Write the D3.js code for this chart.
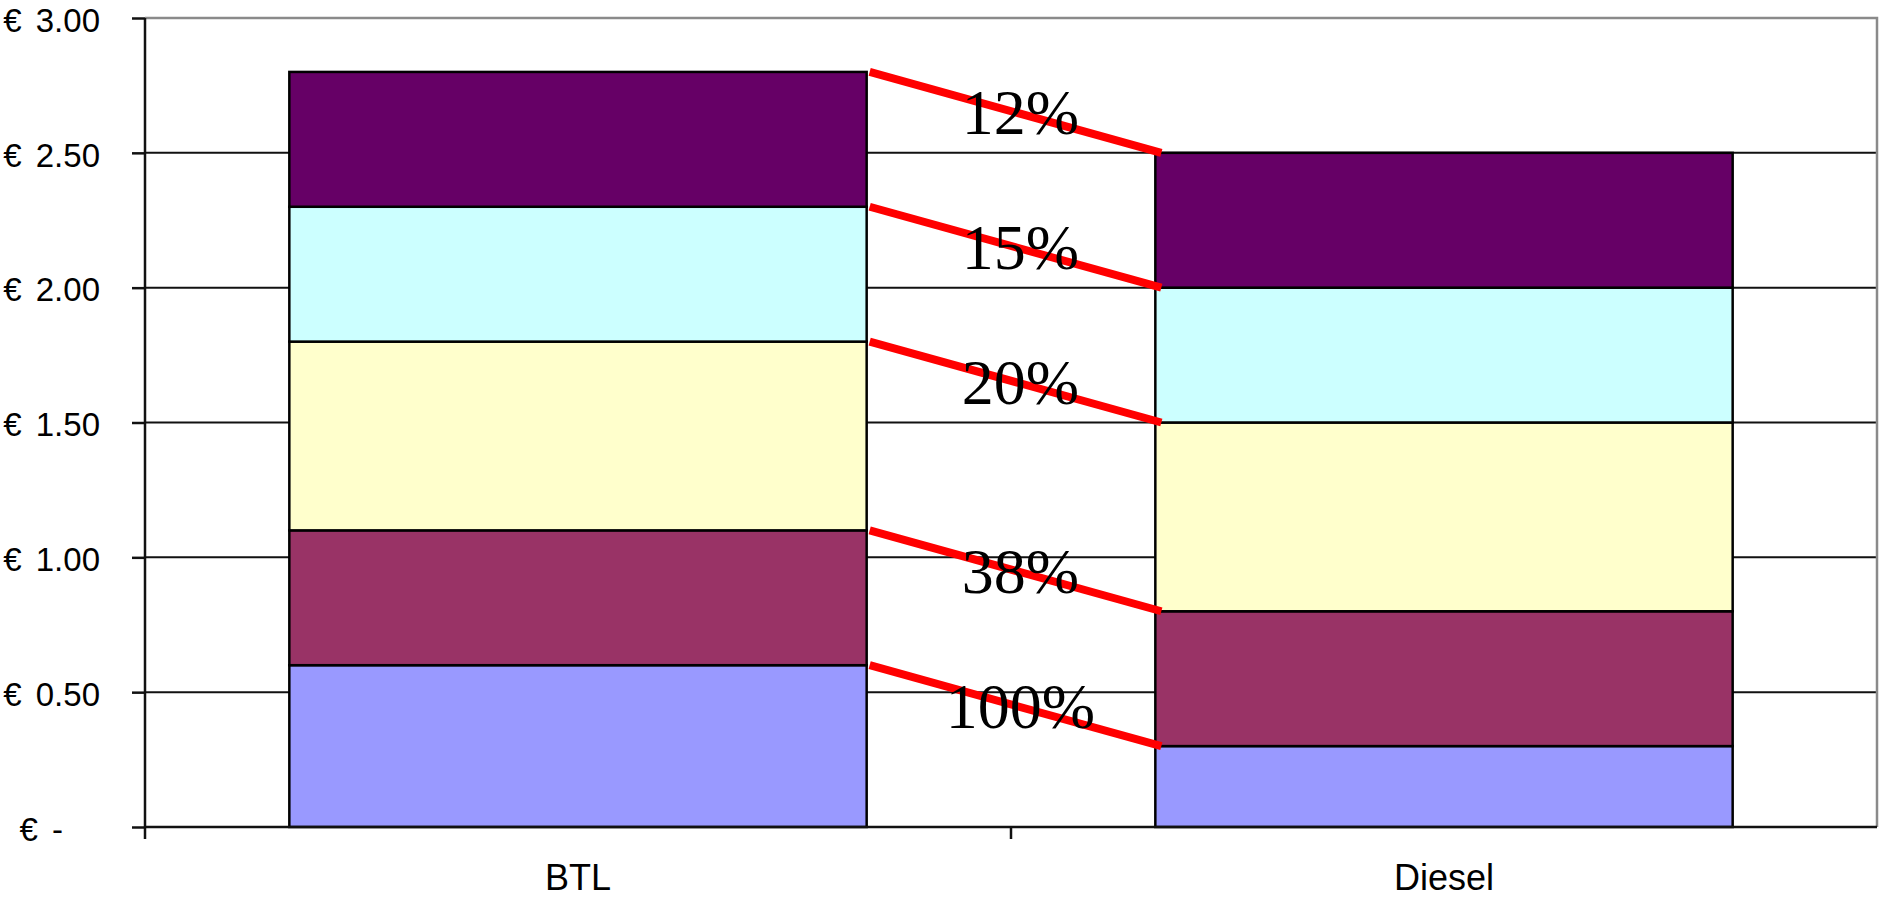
<!DOCTYPE html>
<html lang="en">
<head>
<meta charset="utf-8" />
<title>BTL vs Diesel</title>
<style>
  body { margin: 0; background: #fff; }
  .ylab { font: 33px "Liberation Sans", Arial, sans-serif; fill: #000; word-spacing: 5px; }
  .xlab { font: 36px "Liberation Sans", Arial, sans-serif; fill: #000; }
  .pct { font: 64px "Liberation Serif", "Times New Roman", serif; fill: #000; }
</style>
</head>
<body>
<div id="chart"></div>
<script src="https://cdn.jsdelivr.net/npm/d3@7"></script>
<script>
// data
var categories = ["BTL", "Diesel"];
var segNames = ["s1", "s2", "s3", "s4", "s5"];
var btlValues = [0.6, 0.5, 0.7, 0.5, 0.5];
var dieselValues = [0.3, 0.5, 0.7, 0.5, 0.5];
var segColors = ["#9999ff", "#993366", "#ffffcc", "#ccffff", "#660066"];
var pctLabels = ["100%", "38%", "20%", "15%", "12%"];
var yTicks = [0, 0.5, 1, 1.5, 2, 2.5, 3];
var yTickLabels = ["€ -", "€ 0.50", "€ 1.00", "€ 1.50", "€ 2.00", "€ 2.50", "€ 3.00"];

var width = 1879, height = 899;
var plot = {left: 145, right: 1877, top: 18, bottom: 827};

var svg = d3.select("#chart").append("svg")
  .attr("width", width)
  .attr("height", height);

var x = d3.scaleBand().domain(categories)
  .range([plot.left, plot.right])
  .paddingInner(1/3).paddingOuter(1/6);
var y = d3.scaleLinear().domain([0, 3]).range([plot.bottom, plot.top]);

var gap = x.step() - x.bandwidth();

// table for stacking
var rows = categories.map(function(c, i) {
  var vals = i == 0 ? btlValues : dieselValues;
  var r = {cat: c};
  segNames.forEach(function(s, j) { r[s] = vals[j]; });
  return r;
});
var stacked = d3.stack().keys(segNames)(rows);

// gridlines
svg.append("g").selectAll("line")
  .data(yTicks.filter(function(t) { return t > 0 && t < 3; }))
  .enter().append("line")
  .attr("x1", plot.left).attr("x2", plot.right)
  .attr("y1", function(d) { return y(d); })
  .attr("y2", function(d) { return y(d); })
  .attr("stroke", "#111").attr("stroke-width", 2);

// plot border top / right
svg.append("path")
  .attr("d", "M" + plot.left + "," + y(3) + "H" + plot.right + "V" + plot.bottom)
  .attr("fill", "none").attr("stroke", "#8a8a8a").attr("stroke-width", 2.5);

// bars
svg.append("g").selectAll("g")
  .data(stacked)
  .enter().append("g")
  .attr("fill", function(d, i) { return segColors[i]; })
  .selectAll("rect")
  .data(function(d) { return d; })
  .enter().append("rect")
  .attr("x", function(d) { return x(d.data.cat); })
  .attr("y", function(d) { return y(d[1]); })
  .attr("width", x.bandwidth())
  .attr("height", function(d) { return y(d[0]) - y(d[1]); })
  .attr("stroke", "#000").attr("stroke-width", 2.5);

// y axis
var yAxis = d3.axisLeft(y).tickValues(yTicks).tickSize(13).tickPadding(45)
  .tickFormat(function(d, i) { return yTickLabels[i]; });
var ya = svg.append("g").attr("transform", "translate(" + plot.left + ",0)").call(yAxis);
ya.select(".domain").remove();
ya.attr("font-size", null).attr("font-family", null);
ya.selectAll(".tick line").attr("stroke", "#111").attr("stroke-width", 2.5);
ya.selectAll(".tick text").attr("class", "ylab")
  .attr("x", 100 - plot.left)
  .attr("dy", "0.4em");
ya.selectAll(".tick text").filter(function(d) { return d === 0; }).attr("dx", -37);
svg.append("line")
  .attr("x1", plot.left).attr("x2", plot.left)
  .attr("y1", plot.top).attr("y2", plot.bottom + 12)
  .attr("stroke", "#111").attr("stroke-width", 2.5);

// x axis
svg.append("line")
  .attr("x1", plot.left).attr("x2", plot.right)
  .attr("y1", plot.bottom).attr("y2", plot.bottom)
  .attr("stroke", "#111").attr("stroke-width", 2.5);
svg.append("g").selectAll("line")
  .data(categories.slice(1))
  .enter().append("line")
  .attr("x1", function(d) { return x(d) - gap / 2; })
  .attr("x2", function(d) { return x(d) - gap / 2; })
  .attr("y1", plot.bottom).attr("y2", plot.bottom + 12)
  .attr("stroke", "#111").attr("stroke-width", 2.5);
svg.append("g").selectAll("text")
  .data(categories)
  .enter().append("text")
  .attr("class", "xlab")
  .attr("text-anchor", "middle")
  .attr("x", function(d) { return x(d) + x.bandwidth() / 2; })
  .attr("y", plot.bottom + 63)
  .text(function(d) { return d; });

// connector lines with % change
var links = stacked.map(function(s, i) {
  return {
    x1: x(categories[0]) + x.bandwidth() + 3,
    y1: y(s[0][1]),
    x2: x(categories[1]) + 6,
    y2: y(s[1][1]),
    label: pctLabels[i]
  };
});
svg.append("g").selectAll("line")
  .data(links)
  .enter().append("line")
  .attr("x1", function(d) { return d.x1; })
  .attr("y1", function(d) { return d.y1; })
  .attr("x2", function(d) { return d.x2; })
  .attr("y2", function(d) { return d.y2; })
  .attr("stroke", "#ff0000").attr("stroke-width", 8);
svg.append("g").selectAll("text")
  .data(links)
  .enter().append("text")
  .attr("class", "pct")
  .attr("text-anchor", "middle")
  .attr("x", function(d) { return (d.x1 + d.x2) / 2 + 5; })
  .attr("y", function(d) { return (d.y1 + d.y2) / 2 + 22; })
  .text(function(d) { return d.label; });
</script>
</body>
</html>
